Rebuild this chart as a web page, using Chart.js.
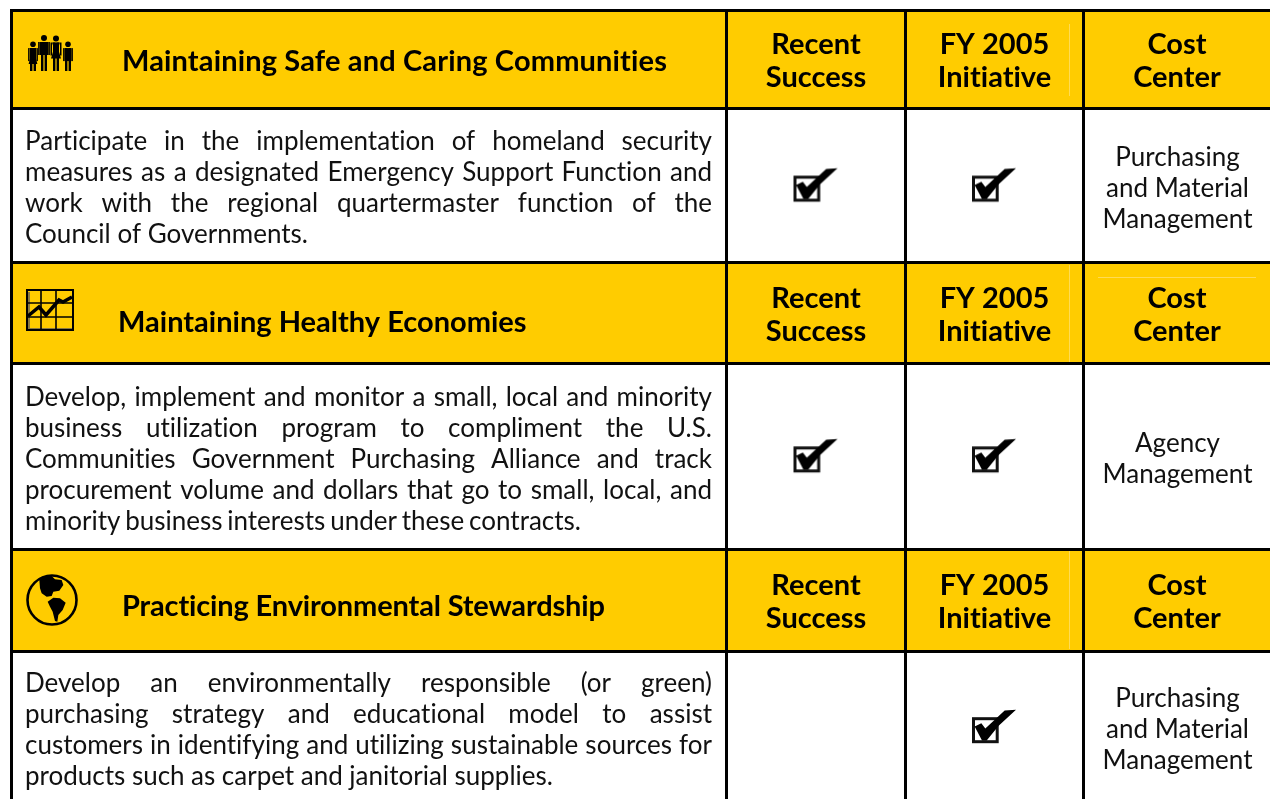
<!DOCTYPE html>
<html>
<head>
<meta charset="utf-8">
<title>Purchasing initiatives</title>
<script src="https://cdn.jsdelivr.net/npm/chart.js@4"></script>
<style>
  html, body { margin: 0; padding: 0; background: #fff; overflow: hidden; }
  canvas { display: block; }
</style>
</head>
<body>
<canvas id="table" width="1270" height="799"></canvas>
<script>
// table content
const themes = [
  "Maintaining Safe and Caring Communities",
  "Maintaining Healthy Economies",
  "Practicing Environmental Stewardship",
];
const columnHeads = [
  ["Recent", "Success"],
  ["FY 2005", "Initiative"],
  ["Cost", "Center"],
];
const descriptions = [
  [
    "Participate in the implementation of homeland security",
    "measures as a designated Emergency Support Function and",
    "work with the regional quartermaster function of the",
    "Council of Governments.",
  ],
  [
    "Develop, implement and monitor a small, local and minority",
    "business utilization program to compliment the U.S.",
    "Communities Government Purchasing Alliance and track",
    "procurement volume and dollars that go to small, local, and",
    "minority business interests under these contracts.",
  ],
  [
    "Develop an environmentally responsible (or green)",
    "purchasing strategy and educational model to assist",
    "customers in identifying and utilizing sustainable sources for",
    "products such as carpet and janitorial supplies.",
  ],
];
const costCenters = [
  ["Purchasing", "and Material", "Management"],
  ["Agency", "Management"],
  ["Purchasing", "and Material", "Management"],
];
const recentSuccess = [1, 1, 0];
const fy2005Initiative = [1, 1, 1];

// table geometry, in the page's own units
const colEdges = [11.5, 726, 905, 1083, 1270];
const rowEdges = [10, 108.5, 262.5, 363.5, 549, 651, 803];
const titleX = [122, 118, 122];
const titleDrop = [2, 9.5, 7];
const titleSpacing = [0.15, 0.01, -0.15];
const lastLineEnd = [308, 581, 553];
const iconSpots = [
  { x: 52, y: 53 },
  { x: 50, y: 310 },
  { x: 52, y: 600 },
];
const faintLines = [
  [{ x: 1069.5, y: 24 }, { x: 1069.5, y: 96 }],
  [{ x: 1069.5, y: 265 }, { x: 1069.5, y: 362 }],
  [{ x: 1069.5, y: 551 }, { x: 1069.5, y: 649 }],
  [{ x: 1098, y: 277.5 }, { x: 1256, y: 277.5 }],
];

const YELLOW = "#ffcc00";
const FAINT = "#ffdb55";
const INK = "#111111";
const FONT = "Lato";

function makeCanvas(w, h, draw) {
  const c = document.createElement("canvas");
  c.width = w;
  c.height = h;
  draw(c.getContext("2d"));
  return c;
}

function poly(ctx, pts) {
  ctx.beginPath();
  pts.forEach((p, i) => (i ? ctx.lineTo(p[0], p[1]) : ctx.moveTo(p[0], p[1])));
  ctx.closePath();
  ctx.fill();
}

const checkIcon = makeCanvas(48, 40, (ctx) => {
  ctx.strokeStyle = "#111";
  ctx.lineWidth = 3;
  ctx.strokeRect(3.5, 11.7, 23.7, 23);
  ctx.fillStyle = "#000";
  const tick = [[50, 90], [70, 80], [82, 96], [140, 42], [174, 40], [122, 88], [86, 132], [72, 132]];
  poly(ctx, tick.map((p) => [p[0] / 3 - 12, p[1] / 3 - 10.5]));
});

const familyIcon = makeCanvas(48, 38, (ctx) => {
  ctx.fillStyle = "#000";
  const person = (cx, top, r, halfW, dress) => {
    ctx.beginPath();
    ctx.arc(cx, top + r, r, 0, Math.PI * 2);
    ctx.fill();
    const body = top + 2 * r + 1;
    if (dress) {
      poly(ctx, [[cx - halfW, body], [cx + halfW, body], [cx + halfW * 0.5, body + 6], [cx + halfW + 1, body + 16], [cx - halfW - 1, body + 16], [cx - halfW * 0.5, body + 6]]);
    } else {
      ctx.fillRect(cx - halfW, body, halfW * 2, 13);
    }
    ctx.fillRect(cx - 3, body, 2.4, 37 - body);
    ctx.fillRect(cx + 0.6, body, 2.4, 37 - body);
    ctx.fillRect(cx - halfW - 1.5, body, 1.5, 13);
    ctx.fillRect(cx + halfW, body, 1.5, 13);
  };
  person(5, 7.5, 2.8, 3.4, true);
  person(16, 1, 3, 4.4, false);
  person(28, 1.5, 3, 4, true);
  person(40, 7.5, 2.8, 3.4, false);
});

const chartIcon = makeCanvas(48, 42, (ctx) => {
  ctx.fillStyle = YELLOW;
  ctx.fillRect(0, 0, 48, 42);
  ctx.strokeStyle = "#8a7a40";
  ctx.lineWidth = 2;
  ctx.beginPath();
  ctx.moveTo(3, 3);
  ctx.lineTo(3, 40);
  ctx.moveTo(3, 40);
  ctx.lineTo(46, 40);
  ctx.stroke();
  ctx.strokeStyle = "#000";
  ctx.lineWidth = 1.6;
  ctx.beginPath();
  [15, 30].forEach((x) => {
    ctx.moveTo(x, 0);
    ctx.lineTo(x, 42);
  });
  [14, 28].forEach((y) => {
    ctx.moveTo(0, y);
    ctx.lineTo(48, y);
  });
  ctx.stroke();
  ctx.lineWidth = 2;
  ctx.strokeRect(1, 1, 46, 40);
  ctx.lineWidth = 3.5;
  ctx.lineJoin = "miter";
  ctx.beginPath();
  ctx.moveTo(2, 27);
  ctx.lineTo(13, 18);
  ctx.lineTo(20, 26);
  ctx.lineTo(33, 11);
  ctx.lineTo(37, 13);
  ctx.lineTo(46, 8);
  ctx.stroke();
});

const globeIcon = makeCanvas(54, 54, (ctx) => {
  ctx.strokeStyle = "#000";
  ctx.lineWidth = 2.6;
  ctx.beginPath();
  ctx.arc(27, 27, 24.5, 0, Math.PI * 2);
  ctx.stroke();
  ctx.fillStyle = "#000";
  const northAmerica = [[118, 60], [130, 48], [155, 48], [165, 58], [185, 60], [190, 75], [178, 92], [160, 95], [155, 108], [140, 110], [125, 100], [120, 85]];
  const southAmerica = [[143, 125], [160, 113], [180, 115], [197, 128], [188, 150], [175, 165], [172, 185], [165, 183], [158, 155], [150, 140]];
  [northAmerica, southAmerica].forEach((land) => poly(ctx, land.map((p) => [(p[0] - 78) / 3 + 1, (p[1] - 42) / 3 + 1])));
});

const rowMid = (i) => (rowEdges[i] + rowEdges[i + 1]) / 2;
const colMid = (i) => (colEdges[i] + colEdges[i + 1]) / 2;

// header bands: one floating bar per column, per theme
const bandDatasets = colEdges.slice(0, -1).map((_, c) => ({
  type: "bar",
  grouped: false,
  backgroundColor: YELLOW,
  borderWidth: 0,
  barThickness: colEdges[c + 1] - colEdges[c],
  data: themes.map((_, t) => ({ x: colMid(c), y: [rowEdges[t * 2], rowEdges[t * 2 + 1]] })),
}));

const checkPoints = (flags, col) =>
  flags.flatMap((on, t) => (on ? [{ x: colMid(col), y: rowMid(t * 2 + 1) }] : []));

const pointSet = (data, icon) => ({
  type: "scatter",
  data,
  pointStyle: icon,
  pointRadius: 10,
  showLine: false,
});

const faintSets = faintLines.map((data) => ({
  type: "scatter",
  data,
  showLine: true,
  borderColor: FAINT,
  borderWidth: 1,
  pointRadius: 0,
}));

const textPlugin = {
  id: "tableText",
  afterDraw(chart) {
    const { ctx, scales } = chart;
    const px = (v) => scales.x.getPixelForValue(v);
    const py = (v) => scales.y.getPixelForValue(v);
    ctx.save();
    ctx.textBaseline = "middle";

    themes.forEach((title, t) => {
      const head = t * 2;
      const body = head + 1;

      ctx.fillStyle = "#000";
      ctx.textAlign = "left";
      ctx.font = `bold 29px ${FONT}`;
      ctx.letterSpacing = `${titleSpacing[t]}px`;
      ctx.fillText(title, px(titleX[t]), py(rowMid(head) + titleDrop[t]));
      // tiny spacing keeps the font's ti ligature off
      ctx.letterSpacing = "0.01px";

      ctx.textAlign = "center";
      columnHeads.forEach((lines, c) => {
        lines.forEach((line, l) => {
          ctx.fillText(line, px(colMid(c + 1) + 0.5), py(rowMid(head) + 2 + (l - 0.5) * 33));
        });
      });

      ctx.fillStyle = INK;
      ctx.font = `26px ${FONT}`;
      costCenters[t].forEach((line, l) => {
        const off = (l - (costCenters[t].length - 1) / 2) * 31;
        ctx.fillText(line, px(colMid(3) + 1), py(rowMid(body) + 3 + off));
      });

      // justified paragraph, last line ends where the original does
      ctx.textAlign = "left";
      const left = px(25);
      const lines = descriptions[t];
      lines.forEach((line, l) => {
        const end = l < lines.length - 1 ? 712 : lastLineEnd[t];
        const spaces = line.split(" ").length - 1;
        ctx.wordSpacing = "0px";
        const extra = (px(end) - left - ctx.measureText(line).width) / spaces;
        ctx.wordSpacing = `${extra}px`;
        const off = (l - (lines.length - 1) / 2) * 31;
        ctx.fillText(line, left, py(rowMid(body) + 3 + off));
      });
      ctx.wordSpacing = "0px";
    });
    ctx.restore();
  },
};

const gridStyle = { color: "#000", lineWidth: 3, drawTicks: false, offset: false, z: 1 };

new Chart(document.getElementById("table"), {
  data: {
    // first dataset draws on top, so the bands go last
    datasets: [
      pointSet(checkPoints(recentSuccess, 1), checkIcon),
      pointSet(checkPoints(fy2005Initiative, 2), checkIcon),
      pointSet([iconSpots[0]], familyIcon),
      pointSet([iconSpots[1]], chartIcon),
      pointSet([iconSpots[2]], globeIcon),
      ...faintSets,
      ...bandDatasets,
    ],
  },
  options: {
    responsive: false,
    animation: false,
    events: [],
    layout: { padding: { left: 10, top: 9, right: 0, bottom: 0 }, autoPadding: false },
    plugins: { legend: { display: false }, tooltip: { enabled: false } },
    scales: {
      x: {
        type: "linear",
        min: 10,
        max: 1270,
        offset: false,
        grid: gridStyle,
        border: { display: false },
        ticks: { display: false, autoSkip: false },
        afterBuildTicks: (axis) => {
          axis.ticks = colEdges.slice(0, -1).map((value) => ({ value }));
        },
      },
      y: {
        type: "linear",
        reverse: true,
        min: 9,
        max: 799,
        grid: gridStyle,
        border: { display: false },
        ticks: { display: false, autoSkip: false },
        afterBuildTicks: (axis) => {
          axis.ticks = rowEdges.slice(0, -1).map((value) => ({ value }));
        },
      },
    },
  },
  plugins: [textPlugin],
});
</script>
</body>
</html>
